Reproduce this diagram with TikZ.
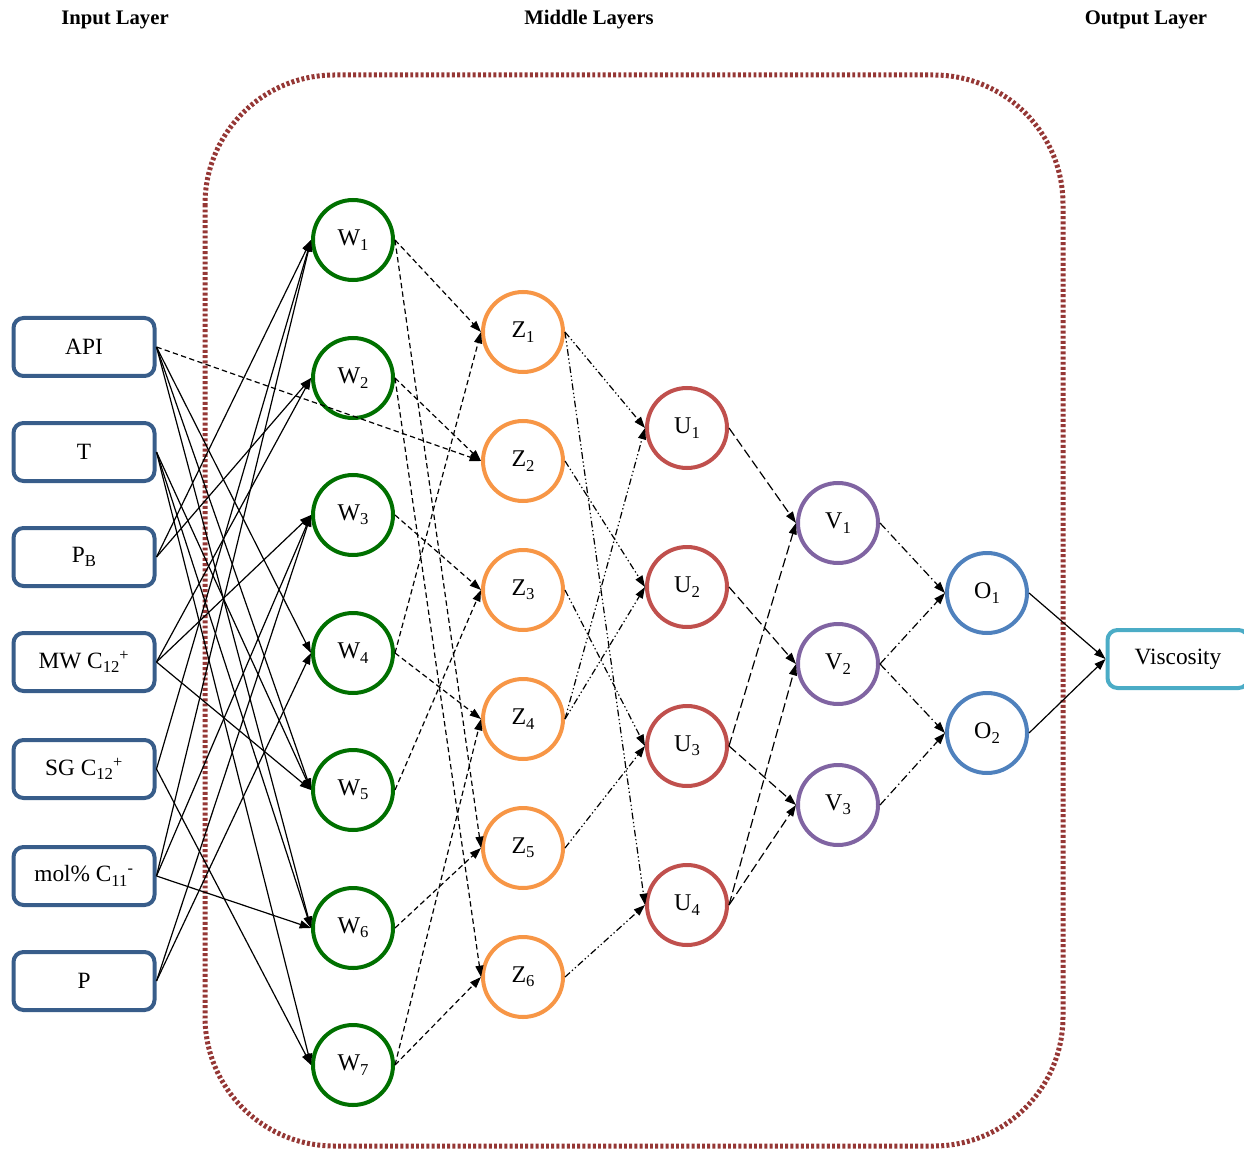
\documentclass[tikz,border=0pt]{standalone}
\usepackage{fontspec}
\setmainfont{Liberation Serif}
\usetikzlibrary{arrows.meta}
\definecolor{inblue}{RGB}{56,93,138}
\definecolor{wgreen}{RGB}{0,112,0}
\definecolor{zorange}{RGB}{247,150,70}
\definecolor{ured}{RGB}{192,80,77}
\definecolor{vpurple}{RGB}{128,100,162}
\definecolor{oblue}{RGB}{79,129,189}
\definecolor{outaqua}{RGB}{75,172,198}
\definecolor{framered}{RGB}{149,55,53}
\newcommand{\lowsub}[1]{\raisebox{-0.4ex}{\fontsize{12.5}{13}\selectfont #1}}

\begin{document}
\begin{tikzpicture}[x=0.75pt,y=0.75pt,yscale=-1,xscale=1,
		inbox/.style={draw=inblue,line width=3pt,rounded corners=7.5pt,minimum width=105.75pt,minimum height=43.5pt,inner sep=0pt,font=\fontsize{17.5}{21}\selectfont},
		outbox/.style={inbox,draw=outaqua},
		neuron/.style={circle,line width=3pt,minimum size=60pt,inner sep=0pt,font=\fontsize{18}{21}\selectfont},
		wnode/.style={neuron,draw=wgreen},
		znode/.style={neuron,draw=zorange},
		unode/.style={neuron,draw=ured},
		vnode/.style={neuron,draw=vpurple},
		onode/.style={neuron,draw=oblue},
		layertitle/.style={font=\bfseries\fontsize{15.5}{18}\selectfont,inner sep=0.75pt},
		link/.style={-{Triangle[length=8.5pt,width=6pt]},line width=0.9pt},
		wlink/.style={link,dash pattern=on 4pt off 2.5pt},
		zlink/.style={link,dash pattern=on 5pt off 2pt on 1pt off 2pt on 1pt off 2pt},
		ulink/.style={link,dash pattern=on 7pt off 3pt},
		vlink/.style={link,dash pattern=on 6pt off 2.5pt on 1pt off 2.5pt}]
	\useasboundingbox (0,0) rectangle (1244,1151);

	%Rounded Rect (middle layers)
	\draw [draw=framered,line width=3.75pt,dash pattern=on 2.2pt off 1.7pt,rounded corners=97pt] (205,75) rectangle (1063,1146);

	% Text Node
	\node [layertitle] (intitle) at (115,20) {Input Layer};
	% Text Node
	\node [layertitle] (midtitle) at (589,20) {Middle Layers};
	% Text Node
	\node [layertitle] (outtitle) at (1146,20) {Output Layer};

	%Input boxes
	\node [inbox] (api) at (84,347) {API};
	\node [inbox] (temp) at (84,452) {T};
	\node [inbox] (pb) at (84,557) {P\lowsub{B}};
	\node [inbox] (mw) at (84,662) {MW C\lowsub{12}\textsuperscript{+}};
	\node [inbox] (sg) at (84,769) {SG C\lowsub{12}\textsuperscript{+}};
	\node [inbox] (mol) at (84,876) {mol\% C\lowsub{11}\textsuperscript{-}};
	\node [inbox] (pres) at (84,981) {P};

	%W layer
	\node [wnode] (w1) at (353,240) {W\lowsub{1}};
	\node [wnode] (w2) at (353,378) {W\lowsub{2}};
	\node [wnode] (w3) at (353,515) {W\lowsub{3}};
	\node [wnode] (w4) at (353,653) {W\lowsub{4}};
	\node [wnode] (w5) at (353,790) {W\lowsub{5}};
	\node [wnode] (w6) at (353,928) {W\lowsub{6}};
	\node [wnode] (w7) at (353,1065) {W\lowsub{7}};

	%Z layer
	\node [znode] (z1) at (523,332) {Z\lowsub{1}};
	\node [znode] (z2) at (523,461) {Z\lowsub{2}};
	\node [znode] (z3) at (523,590) {Z\lowsub{3}};
	\node [znode] (z4) at (523,719) {Z\lowsub{4}};
	\node [znode] (z5) at (523,848) {Z\lowsub{5}};
	\node [znode] (z6) at (523,977) {Z\lowsub{6}};

	%U layer
	\node [unode] (u1) at (687,428) {U\lowsub{1}};
	\node [unode] (u2) at (687,587) {U\lowsub{2}};
	\node [unode] (u3) at (687,746) {U\lowsub{3}};
	\node [unode] (u4) at (687,905) {U\lowsub{4}};

	%V layer
	\node [vnode] (v1) at (838,523) {V\lowsub{1}};
	\node [vnode] (v2) at (838,664) {V\lowsub{2}};
	\node [vnode] (v3) at (838,805) {V\lowsub{3}};

	%O layer
	\node [onode] (o1) at (987,593) {O\lowsub{1}};
	\node [onode] (o2) at (987,733) {O\lowsub{2}};

	%Output box
	\node [outbox] (visc) at (1178,659) {Viscosity};

	%Straight Lines (inputs to W)
	\draw [link] (api.east) -- (w4.west);
	\draw [link] (api.east) -- (w5.west);
	\draw [link] (api.east) -- (w6.west);
	\draw [link] (temp.east) -- (w5.west);
	\draw [link] (temp.east) -- (w6.west);
	\draw [link] (temp.east) -- (w7.west);
	\draw [link] (pb.east) -- (w1.west);
	\draw [link] (pb.east) -- (w2.west);
	\draw [link] (mw.east) -- (w2.west);
	\draw [link] (mw.east) -- (w3.west);
	\draw [link] (mw.east) -- (w5.west);
	\draw [link] (sg.east) -- (w1.west);
	\draw [link] (sg.east) -- (w7.west);
	\draw [link] (mol.east) -- (w1.west);
	\draw [link] (mol.east) -- (w3.west);
	\draw [link] (mol.east) -- (w6.west);
	\draw [link] (pres.east) -- (w3.west);
	\draw [link] (pres.east) -- (w4.west);

	%Dashed Lines (W to Z)
	\draw [wlink] (api.east) -- (z2.west);
	\draw [wlink] (w1.east) -- (z1.west);
	\draw [wlink] (w1.east) -- (z5.west);
	\draw [wlink] (w2.east) -- (z2.west);
	\draw [wlink] (w2.east) -- (z6.west);
	\draw [wlink] (w3.east) -- (z3.west);
	\draw [wlink] (w4.east) -- (z1.west);
	\draw [wlink] (w4.east) -- (z4.west);
	\draw [wlink] (w5.east) -- (z3.west);
	\draw [wlink] (w6.east) -- (z5.west);
	\draw [wlink] (w7.east) -- (z4.west);
	\draw [wlink] (w7.east) -- (z6.west);

	%Dash dot dot Lines (Z to U)
	\draw [zlink] (z1.east) -- (u1.west);
	\draw [zlink] (z1.east) -- (u4.west);
	\draw [zlink] (z2.east) -- (u2.west);
	\draw [zlink] (z3.east) -- (u3.west);
	\draw [zlink] (z4.east) -- (u1.west);
	\draw [zlink] (z4.east) -- (u2.west);
	\draw [zlink] (z5.east) -- (u3.west);
	\draw [zlink] (z6.east) -- (u4.west);

	%Long dashed Lines (U to V)
	\draw [ulink] (u1.east) -- (v1.west);
	\draw [ulink] (u2.east) -- (v2.west);
	\draw [ulink] (u3.east) -- (v1.west);
	\draw [ulink] (u3.east) -- (v3.west);
	\draw [ulink] (u4.east) -- (v2.west);
	\draw [ulink] (u4.east) -- (v3.west);

	%Dash dot Lines (V to O)
	\draw [vlink] (v1.east) -- (o1.west);
	\draw [vlink] (v2.east) -- (o1.west);
	\draw [vlink] (v2.east) -- (o2.west);
	\draw [vlink] (v3.east) -- (o2.west);

	%Straight Lines (O to output)
	\draw [link] (o1.east) -- (visc.west);
	\draw [link] (o2.east) -- (visc.west);
\end{tikzpicture}
\end{document}
